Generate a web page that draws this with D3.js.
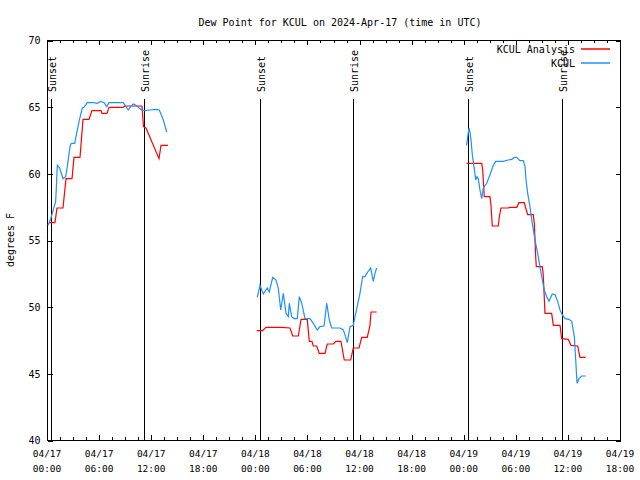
<!DOCTYPE html>
<html>
<head>
<meta charset="utf-8">
<script src="https://cdn.jsdelivr.net/npm/d3@7"></script>
<style>
  html, body { margin: 0; padding: 0; background: #fff; }
  svg { display: block; }
  text { font-family: "DejaVu Sans Mono", "Liberation Mono", monospace; fill: #000; }
</style>
</head>
<body>
<svg id="chart" width="640" height="480"></svg>
<script>
// ---- Data (hours after 2024-04-17 00:00 UTC; null = gap) ----
const titleText = "Dew Point for KCUL on 2024-Apr-17 (time in UTC)";
const yLabel = "degrees F";
const yTicks = [40, 45, 50, 55, 60, 65, 70];
const seriesNames = ["KCUL Analysis", "KCUL"];

const analysisHours = [
  0.23, 0.92, 1.15, 1.84, 2.19, 2.88, 3.11, 3.80, 4.15, 4.84, 5.18, 6.22, 6.33, 6.91, 7.14, 8.75, 8.98, 10.94, 11.11, 11.40, 12.90, 13.13, 13.94,
  null,
  24.15, 24.84, 25.22, 27.03, 27.99, 28.30, 28.95, 29.26, 29.98, 30.21, 30.52, 30.67, 31.06, 31.36, 32.02, 32.28, 32.98, 33.29, 33.86, 34.24, 34.98, 35.28, 35.94, 36.25, 36.89, 37.20, 37.32, 37.97,
  null,
  48.34, 50.07, 50.19, 50.25, 50.37, 51.02, 51.14, 51.29, 51.98, 52.10, 52.29, 53.13, 53.33, 54.10, 54.37, 54.98, 55.14, 55.37, 56.01, 56.13, 56.29, 56.36, 57.05, 57.16, 57.36, 58.13, 58.32, 59.09, 59.28, 60.04, 60.35, 61.13, 61.39, 62.05
];
const analysisValues = [
  56.3, 56.3, 57.4, 57.4, 59.6, 59.6, 61.2, 61.2, 64.05, 64.05, 64.7, 64.7, 64.5, 64.5, 64.95, 64.95, 65.05, 65.05, 63.5, 63.4, 61.1, 62.1, 62.1,
  null,
  48.2, 48.2, 48.45, 48.45, 48.4, 47.8, 47.8, 49.05, 49.05, 47.4, 47.4, 47.05, 47.05, 46.5, 46.5, 47.2, 47.2, 47.4, 47.4, 46.0, 46.0, 46.9, 46.9, 47.7, 47.7, 48.6, 49.6, 49.6,
  null,
  60.75, 60.75, 60.25, 59.5, 58.25, 58.25, 57.6, 56.05, 56.05, 56.75, 57.4, 57.4, 57.45, 57.45, 57.8, 57.8, 57.4, 56.9, 56.9, 56.25, 53.75, 53.0, 53.0, 52.4, 49.5, 49.5, 48.6, 48.6, 47.6, 47.55, 47.1, 47.05, 46.2, 46.2
];

const obsHours = [
  0.12, 0.43, 1.00, 1.19, 1.46, 1.84, 2.15, 2.34, 2.65, 2.80, 3.19, 3.69, 4.07, 4.26, 4.64, 5.41, 5.79, 6.19, 6.57, 6.88, 7.14, 7.72, 8.79, 9.10, 9.36, 9.64, 9.94, 10.25, 10.52, 10.91, 11.29, 11.86, 12.64, 12.93, 13.40, 13.79,
  null,
  24.22, 24.53, 24.91, 25.37, 25.60, 26.00, 26.38, 26.64, 26.92, 27.22, 27.53, 27.79, 27.91, 28.18, 28.45, 28.83, 29.06, 29.34, 29.72, 30.29, 30.67, 31.13, 31.44, 31.91, 32.22, 32.52, 32.79, 33.75, 34.13, 34.32, 34.59, 34.90, 35.28, 35.48, 36.05, 36.36, 36.63, 36.94, 37.28, 37.58, 37.78, 37.97,
  null,
  48.34, 48.46, 48.61, 48.72, 48.84, 48.99, 49.18, 49.38, 49.53, 49.68, 49.87, 50.07, 50.25, 50.65, 51.02, 51.41, 51.68, 52.56, 53.13, 53.52, 53.82, 54.10, 54.48, 54.86, 55.06, 55.17, 55.37, 55.63, 55.90, 56.21, 56.52, 56.78, 57.05, 57.28, 57.56, 57.82, 58.20, 58.51, 58.82, 59.09, 59.35, 59.66, 60.13, 60.44, 60.74, 60.90, 61.05, 61.28, 61.59, 62.05
];
const obsValues = [
  56.1, 56.6, 57.9, 60.6, 60.4, 59.6, 59.75, 60.5, 62.0, 62.25, 62.25, 63.9, 64.9, 64.95, 65.3, 65.3, 65.25, 65.4, 65.3, 65.0, 65.3, 65.3, 65.3, 65.0, 64.75, 65.0, 65.2, 65.1, 64.95, 64.75, 64.7, 64.75, 64.8, 64.75, 64.0, 63.1,
  null,
  50.7, 51.6, 50.95, 51.4, 51.1, 52.2, 52.0, 51.4, 49.75, 51.0, 49.5, 49.25, 50.25, 49.25, 49.1, 49.1, 50.75, 50.25, 49.1, 49.1, 48.75, 48.25, 48.5, 48.55, 50.25, 49.0, 48.4, 48.4, 48.25, 47.9, 47.3, 48.5, 48.6, 49.25, 51.0, 52.25, 52.25, 52.6, 52.9, 51.9, 52.5, 52.9,
  null,
  62.1, 62.75, 63.4, 63.1, 62.5, 61.4, 60.5, 59.5, 59.75, 59.6, 58.75, 58.1, 58.9, 59.25, 59.9, 60.6, 60.9, 60.9, 61.0, 61.05, 61.2, 61.2, 60.95, 60.95, 60.5, 59.5, 58.5, 57.5, 56.25, 55.0, 54.0, 53.0, 52.0, 51.25, 50.75, 50.4, 50.95, 50.9, 50.4, 49.75, 49.4, 49.1, 49.05, 48.9, 47.75, 46.0, 44.25, 44.6, 44.8, 44.8
];

const sunLabels = ["Sunset", "Sunrise", "Sunset", "Sunrise", "Sunset", "Sunrise"];
const sunHours  = [0.43, 11.21, 24.53, 35.25, 48.49, 59.32];

// ---- Layout ----
const BASE = Date.UTC(2024, 3, 17, 0, 0);
const toDate = h => new Date(BASE + h * 3600e3);
const M = { left: 47, right: 620, top: 40, bottom: 440 };
const colors = { analysis: "#ff0000", obs: "#1e90ff" };

const svg = d3.select("#chart");
const x = d3.scaleUtc()
  .domain([toDate(0), toDate(66)])
  .range([M.left, M.right]);
const y = d3.scaleLinear().domain([40, 70]).range([M.bottom, M.top]);

// Title
svg.append("text").attr("x", 340).attr("y", 26).attr("text-anchor", "middle")
  .style("font-size", "10px").text(titleText);

// Y label
svg.append("text").attr("transform", "translate(14,240) rotate(-90)")
  .attr("text-anchor", "middle").style("font-size", "10px").text(yLabel);

// Frame
svg.append("rect").attr("x", M.left + 0.5).attr("y", M.top + 0.5)
  .attr("width", M.right - M.left).attr("height", M.bottom - M.top)
  .attr("fill", "none").attr("stroke", "#000").attr("stroke-width", 1)
  .attr("shape-rendering", "crispEdges");

// Y axis ticks (left & right, inward)
const yAxisL = d3.axisLeft(y).tickValues(yTicks).tickSizeInner(-5).tickSizeOuter(0).tickPadding(7).tickFormat(d3.format("d"));
const gL = svg.append("g").attr("transform", `translate(${M.left + 0.5},0.5)`).call(yAxisL);
gL.select(".domain").remove();
gL.selectAll("text").style("font-size", "10px").style("font-family", "DejaVu Sans Mono, monospace");
gL.selectAll("line").attr("shape-rendering", "crispEdges");

const yAxisR = d3.axisRight(y).tickValues(yTicks).tickSizeInner(-5).tickSizeOuter(0).tickFormat("");
const gR = svg.append("g").attr("transform", `translate(${M.right + 0.5},0.5)`).call(yAxisR);
gR.select(".domain").remove();
gR.selectAll("line").attr("shape-rendering", "crispEdges");

// X axis: major ticks every 6h, minor every 1.5h
const majorTicks = x.ticks(d3.utcHour.every(6));
const minorTicks = d3.range(0, 66.01, 1.5).map(toDate);
function tickMarks(yPos, dir) {
  const g = svg.append("g");
  g.selectAll("line.minor").data(minorTicks).join("line")
    .attr("x1", d => Math.round(x(d)) + 0.5).attr("x2", d => Math.round(x(d)) + 0.5)
    .attr("y1", yPos).attr("y2", yPos + dir * 3)
    .attr("stroke", "#000").attr("shape-rendering", "crispEdges");
  g.selectAll("line.major").data(majorTicks).join("line")
    .attr("x1", d => Math.round(x(d)) + 0.5).attr("x2", d => Math.round(x(d)) + 0.5)
    .attr("y1", yPos).attr("y2", yPos + dir * 5)
    .attr("stroke", "#000").attr("shape-rendering", "crispEdges");
}
tickMarks(M.bottom, -1);
tickMarks(M.top, 1);

const fmtDay = d3.utcFormat("%m/%d");
const fmtHour = d3.utcFormat("%H:%M");
const xl = svg.append("g").selectAll("text").data(majorTicks).join("text")
  .attr("x", d => x(d)).attr("text-anchor", "middle").style("font-size", "9.5px");
xl.append("tspan").attr("x", d => x(d)).attr("y", 457).text(d => fmtDay(d));
xl.append("tspan").attr("x", d => x(d)).attr("y", 472).text(d => fmtHour(d));

// Sunrise / sunset lines
const sun = svg.append("g");
sunHours.forEach((h, i) => {
  const xp = Math.round(x(toDate(h))) + 0.5;
  sun.append("line").attr("x1", xp).attr("x2", xp).attr("y1", 99).attr("y2", M.bottom)
    .attr("stroke", "#000").attr("shape-rendering", "crispEdges");
  sun.append("text").attr("transform", `translate(${xp + 4},92) rotate(-90)`)
    .attr("text-anchor", "start").style("font-size", "10px").text(sunLabels[i]);
});

// Lines
function build(hours, values) {
  return hours.map((h, i) => ({ h, v: values[i] }));
}
const line = d3.line()
  .defined(d => d.h !== null && d.v !== null)
  .x(d => x(toDate(d.h)))
  .y(d => y(d.v));

svg.append("path").datum(build(analysisHours, analysisValues))
  .attr("fill", "none").attr("stroke", colors.analysis).attr("stroke-width", 1.2).attr("d", line);
svg.append("path").datum(build(obsHours, obsValues))
  .attr("fill", "none").attr("stroke", colors.obs).attr("stroke-width", 1.2).attr("d", line);

// Legend
const legendItems = [
  { name: seriesNames[0], color: colors.analysis, ly: 49 },
  { name: seriesNames[1], color: colors.obs, ly: 63 }
];
const legend = svg.append("g");
legend.selectAll("text").data(legendItems).join("text")
  .attr("x", 575).attr("y", d => d.ly + 4).attr("text-anchor", "end")
  .style("font-size", "10px").text(d => d.name);
legend.selectAll("line").data(legendItems).join("line")
  .attr("x1", 581).attr("x2", 610).attr("y1", d => d.ly).attr("y2", d => d.ly)
  .style("stroke", d => d.color).attr("stroke-width", 1.5);
</script>
</body>
</html>
